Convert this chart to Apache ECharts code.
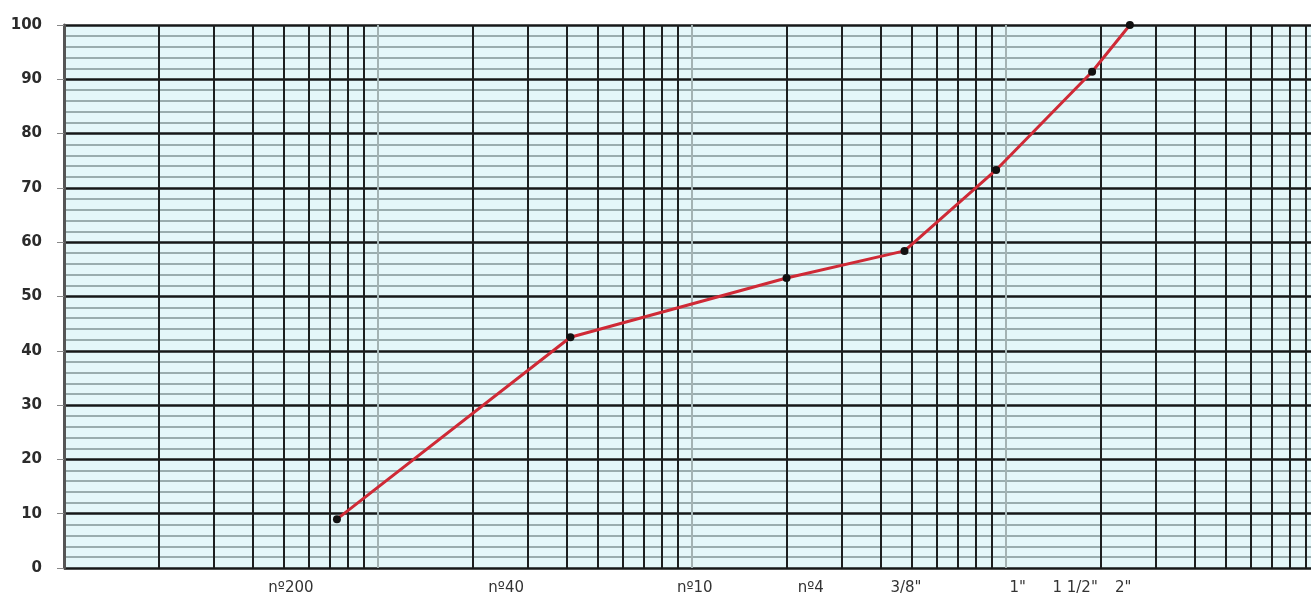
<!DOCTYPE html>
<html>
<head>
<meta charset="utf-8">
<script src="https://cdn.jsdelivr.net/npm/echarts@6/dist/echarts.min.js"></script>
<style>
    html, body { margin: 0; padding: 0; background: #fff; }
    #granulometria { width: 1311px; height: 603px; }
</style>
</head>
<body>
<div id="granulometria"></div>
<script>
// abertura das peneiras (mm) e % passante
const aberturas = [0.074, 0.41, 2.0, 4.75, 9.3, 18.8, 24.8]
const passante = [9, 42.5, 53.4, 58.4, 73.3, 91.4, 100]

// rotulos do eixo x e a abertura (mm) onde cada um aparece
const peneiras = ['nº200', 'nº40', 'nº10', 'nº4', '3/8"', '1"', '1 1/2"', '2"']
const posRotulos = [0.0528, 0.256, 1.02, 2.39, 4.8, 10.9, 16.6, 23.6]

// decadas do papel log e os multiplos de cada uma
const decadas = [0.01, 0.1, 1, 10]
const multiplos = [2, 3, 4, 5, 6, 7, 8, 9, 10]

const xMin = 0.01
const xMax = 93.6

// linhas verticais do papel semi-log
let linhasX = []
decadas.forEach(d => {
    multiplos.forEach(m => {
        let v = +(d * m).toPrecision(3)
        if (v < xMax) linhasX.push(v)
    })
})

// cor de cada linha: a da decada e mais clara
let coresX = multiplos.map(m => m === 10 ? '#a3b3b3' : '#1c1f1f')

function rotuloMaisProximo(v) {
    let melhor = 0
    posRotulos.forEach((p, i) => {
        if (Math.abs(Math.log10(p) - Math.log10(v)) < Math.abs(Math.log10(posRotulos[melhor]) - Math.log10(v))) melhor = i
    })
    return peneiras[melhor]
}

let myChart = echarts.init(document.querySelector('#granulometria'))

const option = {
    animation: false,
    grid: {
        left: 64,
        right: 0,
        top: 25,
        bottom: 35,
        show: true,
        backgroundColor: '#e4f7f9',
        borderWidth: 0
    },
    xAxis: {
        type: 'log',
        logBase: 10,
        min: xMin,
        max: xMax,
        axisLine: { show: false },
        axisTick: { show: false, customValues: linhasX },
        splitLine: {
            show: true,
            lineStyle: { color: coresX, width: 2 }
        },
        axisLabel: {
            customValues: posRotulos,
            formatter: v => rotuloMaisProximo(v),
            margin: 13,
            color: '#333',
            fontSize: 15,
            fontFamily: 'DejaVu Sans'
        }
    },
    yAxis: {
        type: 'value',
        min: 0,
        max: 100,
        interval: 10,
        axisLine: { show: true, lineStyle: { color: '#555', width: 3 } },
        axisTick: { show: true, length: 7, lineStyle: { color: '#888', width: 1 } },
        axisLabel: {
            margin: 22,
            color: '#2b2b2b',
            fontSize: 15,
            fontWeight: 'bold',
            fontFamily: 'DejaVu Sans'
        },
        splitLine: {
            lineStyle: { color: '#161818', width: 2.5 }
        },
        minorTick: { show: false, splitNumber: 5 },
        minorSplitLine: {
            show: true,
            lineStyle: { color: '#819595', width: 1.6 }
        }
    },
    series: [
        {
            type: 'line',
            data: aberturas.map((a, i) => [a, passante[i]]),
            symbol: 'circle',
            symbolSize: 8,
            itemStyle: { color: '#111' },
            lineStyle: { color: '#cf2a36', width: 3 },
            z: 5
        }
    ]
}

myChart.setOption(option)
</script>
</body>
</html>
